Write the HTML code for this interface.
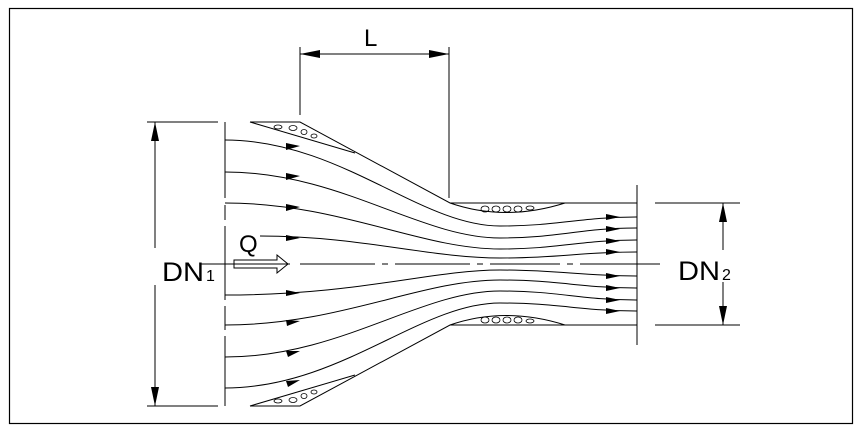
<!DOCTYPE html>
<html><head><style>body{margin:0;background:#fff}svg{display:block}</style></head><body>
<svg width="863" height="433" viewBox="0 0 863 433" xmlns="http://www.w3.org/2000/svg" font-family="Liberation Sans, sans-serif">
<rect x="0" y="0" width="863" height="433" fill="#fff"/>
<rect x="9.5" y="8.5" width="843" height="415" fill="none" stroke="#000" stroke-width="1.2"/>
<g stroke="#000" stroke-width="1" fill="none">
<path d="M250,122 L300,122 L450,203 L637,203"/>
<path d="M250,406 L300,406 L450,325 L637,325"/>
<path d="M250,122 L355,153"/>
<path d="M250,406 L355,375"/>
<path d="M450,203 Q505,222 565,203"/>
<path d="M450,325 Q505,306 565,325"/>
<path d="M225,122 V198 M225,205 V220 M225,226 V300 M225,306 V330 M225,336 V406"/>
<path d="M637,185 V345"/>
<path d="M200,264 H290 M300,264 H375 M382,264 H388 M395,264 H470 M477,264 H483 M490,264 H560 M567,264 H573 M580,264 H660"/>
<path d="M147,122 H218 M147,406 H218 M155,122 V248 M155,285 V406"/>
<path d="M655,203 H740 M655,325 H740 M723,203 V250 M723,282 V325"/>
<path d="M300,47 V115 M449,47 V198 M300,54 H449"/>
<path d="M225,140 C340,140 420,226 500,226 C560,226 580,217 637,217"/>
<path d="M225,172 C340,172 420,238 500,238 C560,238 580,228 637,228"/>
<path d="M225,203 C340,203 420,249 500,249 C560,249 580,240 637,240"/>
<path d="M260,236 C360,236 430,258 500,258 C560,258 580,252 637,252"/>
<path d="M225,295 C360,295 430,270 500,270 C560,270 580,276 637,276"/>
<path d="M225,325 C340,325 420,280 500,280 C560,280 580,288 637,288"/>
<path d="M225,357 C340,357 420,291 500,291 C560,291 580,300 637,300"/>
<path d="M225,388 C340,388 420,303 500,303 C560,303 580,311 637,311"/>
<path d="M234,260 H277 V255 L288,264 L277,273 V268 H234 Z"/>
<g stroke-width="0.8">
<ellipse cx="278" cy="127" rx="4" ry="2"/><ellipse cx="293" cy="128" rx="4" ry="2.5"/><ellipse cx="304" cy="132" rx="3" ry="2.5"/><ellipse cx="314" cy="136" rx="3" ry="2"/>
<ellipse cx="278" cy="401" rx="4" ry="2"/><ellipse cx="293" cy="400" rx="4" ry="2.5"/><ellipse cx="304" cy="396" rx="3" ry="2.5"/><ellipse cx="314" cy="392" rx="3" ry="2"/>
<ellipse cx="485" cy="209" rx="4" ry="3"/><ellipse cx="496" cy="209" rx="4" ry="3"/><ellipse cx="507" cy="209" rx="4" ry="3"/><ellipse cx="518" cy="209" rx="4" ry="3"/><ellipse cx="530" cy="208" rx="4" ry="2"/>
<ellipse cx="485" cy="320" rx="4" ry="3"/><ellipse cx="496" cy="320" rx="4" ry="3"/><ellipse cx="507" cy="320" rx="4" ry="3"/><ellipse cx="518" cy="320" rx="4" ry="3"/><ellipse cx="530" cy="321" rx="4" ry="2"/>
</g>
</g>
<g fill="#000">
<path d="M155,122 L151,141 L159,141 Z"/><path d="M155,406 L151,387 L159,387 Z"/>
<path d="M723,203 L719,222 L727,222 Z"/><path d="M723,325 L719,306 L727,306 Z"/>
<path d="M300,54 L320,50 L320,58 Z"/><path d="M449,54 L429,50 L429,58 Z"/>
<path d="M300,146 L286,143 L286,150 Z"/><path d="M300,176 L286,173 L286,180 Z"/><path d="M300,207 L286,204 L286,211 Z"/><path d="M300,238 L286,235 L286,241 Z"/>
<path d="M300,293 L286,290 L286,296 Z"/><path d="M300,321 L286,320 L287,326 Z"/><path d="M300,351 L286,351 L288,357 Z"/><path d="M300,380 L286,381 L288,387 Z"/>
<path d="M620,217 L606,214 L606,220 Z"/><path d="M620,229 L606,226 L606,232 Z"/><path d="M620,241 L606,238 L606,244 Z"/><path d="M620,252 L606,249 L606,255 Z"/>
<path d="M620,276 L606,273 L606,279 Z"/><path d="M620,288 L606,285 L606,291 Z"/><path d="M620,300 L606,297 L606,303 Z"/><path d="M620,311 L606,308 L606,314 Z"/>
</g>
<g font-size="27" fill="#000">
<text x="162" y="281" textLength="42" lengthAdjust="spacingAndGlyphs">DN</text><text x="206" y="281" font-size="16">1</text>
<text x="678" y="280" textLength="42" lengthAdjust="spacingAndGlyphs">DN</text><text x="722" y="280" font-size="16">2</text>
<text x="239" y="252" font-size="24">Q</text>
<text x="364" y="46" font-size="24">L</text>
</g>
</svg>
</body></html>
